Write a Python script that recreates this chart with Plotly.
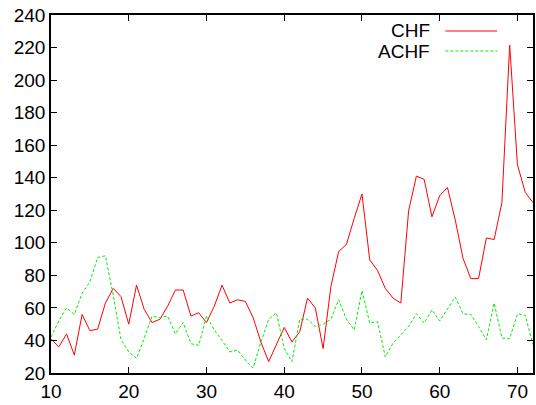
import plotly.graph_objects as go

x_vals = list(range(10, 73))
chf = [41, 36, 44, 31, 56, 46, 47, 63, 72, 67, 50, 74, 59, 51, 53, 61, 71, 71, 55, 57,
       51, 61, 74, 63, 65, 64, 54, 39, 27, 38, 48, 39, 45.5, 66, 60, 35, 73, 94.6, 99, 115,
       130, 89.5, 83, 72, 66, 63, 119.6, 141, 139, 116, 129, 134, 114, 90.5, 78, 78, 103, 102, 124.7, 221.5,
       148, 131, 124.7]
achf = [42, 52, 60, 56, 69, 76, 91, 92, 68, 40.5, 33, 29, 41.5, 55, 54, 55, 44, 51, 38, 37,
        55, 46.5, 40, 33, 34, 28, 23, 39, 53, 57, 35, 27, 53, 53, 48.6, 50, 53, 65, 53, 46.5,
        70.7, 50.7, 51.6, 29.8, 38.4, 43.5, 48.6, 56.4, 50.7, 58.8, 52, 59.4, 66.6, 56.4, 56, 48.6, 40.4, 63, 41.5, 41,
        56.4, 55.5, 37.4]
series_names = ["CHF", "ACHF"]
x_ticks = [10, 20, 30, 40, 50, 60, 70]
y_ticks = list(range(20, 241, 20))

FONT = "Liberation Sans, Arial, sans-serif"
L, R, T, B = 51, 1, 15, 32
W, H = 536, 405
pw, ph = W - L - R, H - T - B

fig = go.Figure()
fig.add_trace(go.Scatter(x=x_vals, y=chf, mode="lines", name=series_names[0],
                         line=dict(color="#ff0000", width=1)))
fig.add_trace(go.Scatter(x=x_vals, y=achf, mode="lines", name=series_names[1],
                         line=dict(color="#00ee00", width=1, dash="3px,2px")))

def px2paper(px, py):
    return (px - L) / pw, (H - B - py) / ph

colors = ["#ff0000", "#00ee00"]
dashes = ["solid", "3px,2px"]
for i, name in enumerate(series_names):
    py = 31 + 20 * i
    ax, ay = px2paper(434, py)
    fig.add_annotation(x=ax, y=ay, xref="paper", yref="paper", text=name, showarrow=False,
                       xanchor="right", yanchor="middle",
                       font=dict(family=FONT, size=19, color="black"))
    x0, _ = px2paper(447, py)
    x1, _ = px2paper(499, py)
    fig.add_shape(type="line", xref="paper", yref="paper", x0=x0, x1=x1, y0=ay, y1=ay,
                  line=dict(color=colors[i], width=1, dash=dashes[i]))

axis_common = dict(showgrid=False, zeroline=False, showline=True, linecolor="black",
                   linewidth=1.5, mirror="ticks", ticks="inside", ticklen=6, tickcolor="black",
                   tickwidth=1,
                   tickfont=dict(family=FONT, size=19, color="black"))
fig.update_xaxes(range=[10, 72], tickvals=x_ticks, **axis_common)
fig.update_yaxes(range=[20, 240], tickvals=y_ticks, **axis_common)

fig.update_layout(width=W, height=H, margin=dict(l=L, r=R, t=T, b=B),
                  plot_bgcolor="white", paper_bgcolor="white", showlegend=False)

fig.write_html("out.html")
